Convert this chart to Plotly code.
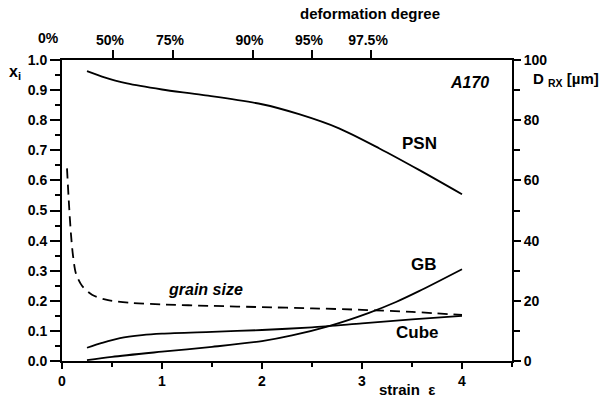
import plotly.graph_objects as go

# ---- data ----
strain_psn = [0.25, 0.4, 0.65, 1.0, 1.4, 2.0, 2.37, 2.77, 3.17, 3.57, 4.0]
psn = [0.963, 0.945, 0.922, 0.902, 0.884, 0.853, 0.82, 0.773, 0.707, 0.635, 0.554]

strain_cube = [0.25, 0.4, 0.58, 0.8, 1.0, 1.5, 2.0, 2.5, 3.0, 3.5, 4.0]
cube = [0.044, 0.06, 0.076, 0.086, 0.091, 0.097, 0.103, 0.112, 0.125, 0.138, 0.15]

strain_gb = [0.25, 0.5, 1.0, 1.5, 2.0, 2.3, 2.67, 3.07, 3.34, 3.57, 4.0]
gb = [0.003, 0.014, 0.031, 0.047, 0.066, 0.085, 0.116, 0.16, 0.196, 0.232, 0.305]

strain_gs = [0.05, 0.07, 0.09, 0.11, 0.14, 0.2, 0.3, 0.45, 0.7, 1.0, 1.5, 2.0, 2.5, 3.0, 3.5, 4.0]
grain_size = [64, 52, 42, 35, 29, 25, 22, 20.3, 19.3, 18.8, 18.3, 17.9, 17.5, 17.0, 16.3, 15.3]

strain_ticks = [0, 1, 2, 3, 4]
deform_pos = [0.51, 1.11, 1.905, 2.5, 3.09]
deform_labels = ["50%", "75%", "90%", "95%", "97.5%"]

FONT = "Liberation Sans, Arial, sans-serif"
K = "black"

fig = go.Figure()
line = dict(color=K, width=1.8, shape="spline", smoothing=0.8)
fig.add_trace(go.Scatter(x=strain_psn, y=psn, mode="lines", line=line, xaxis="x", yaxis="y"))
fig.add_trace(go.Scatter(x=strain_cube, y=cube, mode="lines", line=line, xaxis="x", yaxis="y"))
fig.add_trace(go.Scatter(x=strain_gb, y=gb, mode="lines", line=line, xaxis="x", yaxis="y"))
fig.add_trace(go.Scatter(x=strain_gs, y=grain_size, mode="lines",
                         line=dict(color=K, width=1.8, dash="10px,6px", shape="spline", smoothing=0.8),
                         xaxis="x", yaxis="y2"))
# invisible trace to keep the top axis alive
fig.add_trace(go.Scatter(x=[0, 4.5], y=[0, 0], mode="lines", line=dict(width=0), opacity=0,
                         xaxis="x2", yaxis="y", hoverinfo="skip"))

tickfont = dict(family=FONT, size=14, color=K, weight="bold")
axis_common = dict(showline=True, linecolor=K, linewidth=1.8, showgrid=False, zeroline=False,
                   ticks="outside", tickcolor=K, tickwidth=1.5, tickfont=tickfont)

fig.update_layout(
    width=605, height=401,
    margin=dict(l=62, r=93, t=60, b=40),
    plot_bgcolor="white", paper_bgcolor="white",
    showlegend=False,
    font=dict(family=FONT, size=14, color=K, weight="bold"),
    xaxis=dict(range=[0, 4.5], tickvals=strain_ticks, ticklen=6,
               minor=dict(dtick=0.5, ticklen=4, ticks="outside", tickcolor=K, tickwidth=1.5),
               **axis_common),
    xaxis2=dict(range=[0, 4.5], overlaying="x", side="top", anchor="y",
                tickvals=deform_pos, ticktext=deform_labels, ticklen=8, ticklabelshift=-3,
                **axis_common),
    yaxis=dict(range=[0, 1], dtick=0.1, tickformat=".1f", ticklen=10,
               minor=dict(dtick=0.05, ticklen=5, ticks="outside", tickcolor=K, tickwidth=1.5),
               **axis_common),
    yaxis2=dict(range=[0, 100], dtick=20, overlaying="y", side="right", anchor="x", ticklen=7,
                minor=dict(dtick=10, ticklen=6, ticks="outside", tickcolor=K, tickwidth=1.5),
                **axis_common),
)

def ann(text, x, y, xref="x", yref="y", size=17, italic=False, weight="bold"):
    fig.add_annotation(text=text, x=x, y=y, xref=xref, yref=yref, showarrow=False,
                       xanchor="center", yanchor="middle",
                       font=dict(family=FONT, size=size, color=K, weight=weight,
                                 style="italic" if italic else "normal"))

ann("deformation degree", 0.684, 1.153, "paper", "paper", size=15)
ann("0%", -0.029, 1.073, "paper", "paper", size=14)
ann("x<sub>i</sub>", -0.105, 0.96, "paper", "paper", size=16)
ann("D <sub>RX</sub> [µm]", 1.12, 0.934, "paper", "paper", size=15)
ann("A170", 4.07, 0.924, size=16, italic=True)
ann("PSN", 3.57, 0.721)
ann("GB", 3.62, 0.319)
ann("Cube", 3.55, 0.096)
ann("grain size", 1.43, 0.236, size=16, italic=True)
ann("strain  ε", 3.45, -0.096, "x", "paper", size=15)

fig.write_html("out.html")
